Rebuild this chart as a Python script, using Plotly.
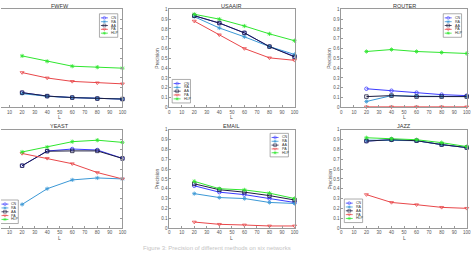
import plotly.graph_objects as go

# ---------------- data ----------------
L = [20, 40, 60, 80, 100]
methods = ["CN", "RA", "AA", "PA", "HLP"]
titles = ["FWFW", "USAAIR", "ROUTER", "YEAST", "EMAIL", "JAZZ"]
x_ticks = [0, 10, 20, 30, 40, 50, 60, 70, 80, 90, 100]
y_ticks = [0, 0.1, 0.2, 0.3, 0.4, 0.5, 0.6, 0.7, 0.8, 0.9, 1]
y_ticktext = ["0", "0.1", "0.2", "0.3", "0.4", "0.5", "0.6", "0.7", "0.8", "0.9", "1"]

fwfw_cn = [0.15, 0.115, 0.10, 0.09, 0.085]
fwfw_ra = [0.14, 0.113, 0.10, 0.09, 0.085]
fwfw_aa = [0.15, 0.115, 0.10, 0.09, 0.085]
fwfw_pa = [0.355, 0.30, 0.265, 0.25, 0.24]
fwfw_hlp = [0.525, 0.47, 0.42, 0.41, 0.40]

usaair_cn = [0.935, 0.86, 0.76, 0.62, 0.52]
usaair_ra = [0.925, 0.81, 0.72, 0.62, 0.54]
usaair_aa = [0.935, 0.86, 0.76, 0.62, 0.515]
usaair_pa = [0.88, 0.74, 0.60, 0.505, 0.48]
usaair_hlp = [0.95, 0.90, 0.83, 0.75, 0.68]

router_cn = [0.19, 0.17, 0.15, 0.13, 0.12]
router_ra = [0.06, 0.12, 0.115, 0.11, 0.11]
router_aa = [0.11, 0.12, 0.11, 0.11, 0.11]
router_pa = [0.005, 0.005, 0.005, 0.005, 0.005]
router_hlp = [0.57, 0.59, 0.57, 0.56, 0.55]

yeast_cn = [0.635, 0.785, 0.805, 0.795, 0.71]
yeast_ra = [0.24, 0.40, 0.49, 0.51, 0.50]
yeast_aa = [0.635, 0.783, 0.786, 0.786, 0.709]
yeast_pa = [0.76, 0.71, 0.655, 0.565, 0.50]
yeast_hlp = [0.775, 0.825, 0.88, 0.895, 0.873]

email_cn = [0.43, 0.365, 0.34, 0.30, 0.26]
email_ra = [0.35, 0.31, 0.30, 0.26, 0.25]
email_aa = [0.45, 0.39, 0.365, 0.33, 0.285]
email_pa = [0.06, 0.037, 0.03, 0.02, 0.02]
email_hlp = [0.475, 0.40, 0.388, 0.355, 0.30]

jazz_cn = [0.886, 0.90, 0.89, 0.85, 0.82]
jazz_ra = [0.896, 0.896, 0.89, 0.85, 0.82]
jazz_aa = [0.886, 0.90, 0.89, 0.85, 0.82]
jazz_pa = [0.34, 0.26, 0.237, 0.21, 0.20]
jazz_hlp = [0.92, 0.91, 0.90, 0.87, 0.83]

panel_data = [
    [fwfw_cn, fwfw_ra, fwfw_aa, fwfw_pa, fwfw_hlp],
    [usaair_cn, usaair_ra, usaair_aa, usaair_pa, usaair_hlp],
    [router_cn, router_ra, router_aa, router_pa, router_hlp],
    [yeast_cn, yeast_ra, yeast_aa, yeast_pa, yeast_hlp],
    [email_cn, email_ra, email_aa, email_pa, email_hlp],
    [jazz_cn, jazz_ra, jazz_aa, jazz_pa, jazz_hlp],
]

# ---------------- styles ----------------
colors = ["#3a3aff", "#3b98d6", "#1c1c40", "#e8474a", "#2fe62f"]
symbols = ["circle-open", "asterisk-open", "square-open", "triangle-down-open", "asterisk-open"]
FONT = "Liberation Sans, Arial, sans-serif"
AXC = "#9a9a9a"
TXC = "#555555"

W, H = 471, 253
col_x0 = [-4.0, 170.0, 344.0]
ppu = 1.267
row_top = [7.5, 130.5]
row_bot = [107.5, 230.5]
legend_pos = [(99.5, 12), (173, 79), (447, 12), (-1, 202), (272, 134), (347, 201)]

fig = go.Figure()
layout = dict(
    width=W, height=H, margin=dict(l=0, r=0, t=0, b=0),
    paper_bgcolor="white", plot_bgcolor="rgba(0,0,0,0)",
    showlegend=False, font=dict(family=FONT, color=TXC),
)
annotations = []

for i, name in enumerate(titles):
    r, c = divmod(i, 3)
    x0 = col_x0[c]
    left = max(x0, 0.0)
    right = x0 + 100 * ppu
    sfx = "" if i == 0 else str(i + 1)
    xref, yref = "x" + sfx, "y" + sfx
    xdom = [left / W, min(right / W, 1.0)]
    ydom = [(H - row_bot[r]) / H, (H - row_top[r]) / H]
    layout["xaxis" + sfx] = dict(
        domain=xdom, range=[(left - x0) / ppu, 100], anchor=yref,
        showline=True, linecolor=AXC, linewidth=0.8, mirror=True,
        ticks="inside", ticklen=2, tickwidth=0.6, tickcolor=AXC,
        tickvals=x_ticks, tickfont=dict(size=4.5, color=TXC, family=FONT),
        showgrid=False, zeroline=False,
    )
    ycfg = dict(
        domain=ydom, range=[0, 1], anchor=xref,
        showline=True, linecolor=AXC, linewidth=0.8, mirror=True,
        ticks="inside", ticklen=2, tickwidth=0.6, tickcolor=AXC,
        tickvals=y_ticks, ticktext=y_ticktext,
        tickfont=dict(size=4.5, color=TXC, family=FONT),
        showgrid=False, zeroline=False,
    )
    if c == 0:
        ycfg.update(side="right", mirror=False, showticklabels=False)
    layout["yaxis" + sfx] = ycfg

    for k, m in enumerate(methods):
        fig.add_trace(go.Scatter(
            x=L, y=panel_data[i][k], xaxis=xref, yaxis=yref, mode="lines+markers",
            line=dict(color=colors[k], width=1),
            marker=dict(symbol=symbols[k], size=3.5, color=colors[k],
                        line=dict(color=colors[k], width=0.8)),
            name=m, cliponaxis=False,
        ))

    cx = x0 + 50 * ppu
    annotations.append(dict(text=name, x=cx / W, y=(H - (row_top[r] - 3.5)) / H,
                            xref="paper", yref="paper", showarrow=False,
                            xanchor="center", yanchor="middle",
                            font=dict(size=5.5, color="#333333", family=FONT)))
    annotations.append(dict(text="L", x=cx / W, y=(H - (row_bot[r] + 10)) / H,
                            xref="paper", yref="paper", showarrow=False,
                            xanchor="center", yanchor="middle",
                            font=dict(size=5, color=TXC, family=FONT)))
    if c > 0:
        annotations.append(dict(text="Precision", x=(x0 - 12) / W,
                                y=(H - (row_top[r] + row_bot[r]) / 2) / H,
                                xref="paper", yref="paper", showarrow=False, textangle=-90,
                                xanchor="center", yanchor="middle",
                                font=dict(size=5, color=TXC, family=FONT)))

# ---------------- in-plot legends (pixel overlay axes) ----------------
layout["xaxis7"] = dict(domain=[0, 1], range=[0, W], visible=False, anchor="y7")
layout["yaxis7"] = dict(domain=[0, 1], range=[H, 0], visible=False, anchor="x7")
BW, BH = 18.5, 24
for (lx, ly) in legend_pos:
    fig.add_trace(go.Scatter(
        x=[lx, lx + BW, lx + BW, lx, lx], y=[ly, ly, ly + BH, ly + BH, ly],
        xaxis="x7", yaxis="y7", mode="lines", fill="toself", fillcolor="white",
        line=dict(color="#8a8a8a", width=0.7), hoverinfo="skip", cliponaxis=False,
    ))
    for k, m in enumerate(methods):
        yy = ly + 4.2 + 3.9 * k
        fig.add_trace(go.Scatter(
            x=[lx + 1.5, lx + 5, lx + 8.5], y=[yy, yy, yy], xaxis="x7", yaxis="y7",
            mode="lines+markers", line=dict(color=colors[k], width=0.8),
            marker=dict(symbol=symbols[k], size=[0, 2.8, 0], color=colors[k],
                        line=dict(color=colors[k], width=0.7)),
            hoverinfo="skip", cliponaxis=False,
        ))
        annotations.append(dict(text=m, x=lx + 9.5, y=yy, xref="x7", yref="y7",
                                showarrow=False, xanchor="left", yanchor="middle",
                                font=dict(size=3.6, color="#333333", family=FONT)))

annotations.append(dict(text="Figure 3: Precision of different methods on six networks",
                        x=218 / W, y=(H - 250.5) / H, xref="paper", yref="paper",
                        showarrow=False, xanchor="center", yanchor="middle",
                        font=dict(size=6, color="#c4c4c4", family=FONT)))

layout["annotations"] = annotations
fig.update_layout(**layout)
fig.write_html("out.html")
